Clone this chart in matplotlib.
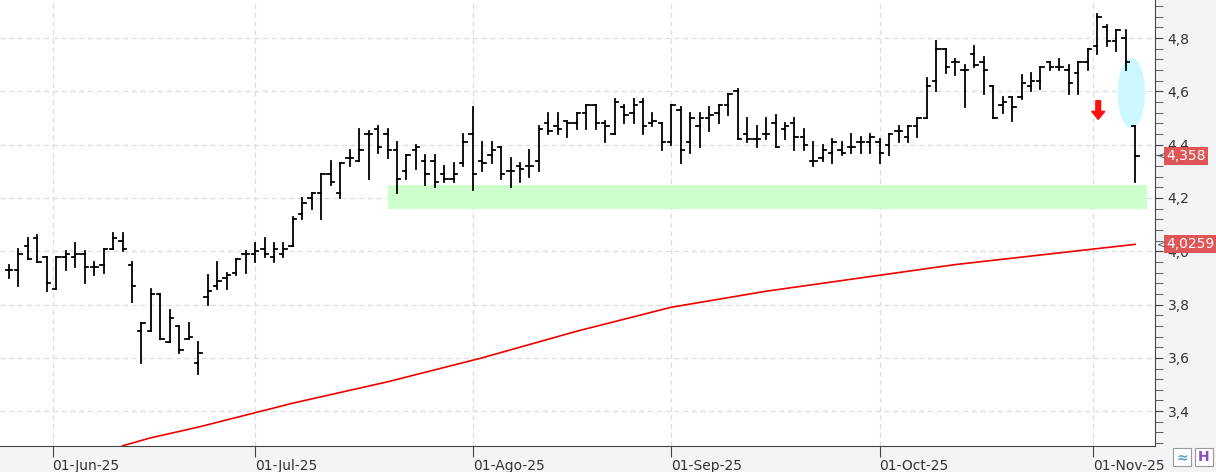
import pandas as pd
import matplotlib.pyplot as plt
from matplotlib.patches import Rectangle, Ellipse, FancyArrow

dates = pd.bdate_range("2025-05-26", "2025-11-07")

opens = [3.93, 3.93, 4.02, 4.05, 3.98, 3.86, 3.98, 3.98, 3.99, 3.94,
         3.95, 4.01, 4.04, 3.95, 3.70, 3.70, 3.84, 3.66, 3.72, 3.67,
         3.58, 3.83, 3.87, 3.90, 3.92, 3.99, 3.99, 4.01, 3.98, 3.99,
         4.02, 4.14, 4.20, 4.22, 4.29, 4.22, 4.35, 4.34, 4.44, 4.46,
         4.44, 4.38, 4.30, 4.38, 4.34, 4.34, 4.29, 4.27, 4.33, 4.44,
         4.34, 4.36, 4.39, 4.30, 4.32, 4.32, 4.34, 4.48, 4.47, 4.49,
         4.48, 4.52, 4.55, 4.48, 4.44, 4.54, 4.52, 4.56, 4.48, 4.48,
         4.41, 4.53, 4.41, 4.47, 4.50, 4.52, 4.55, 4.60, 4.44, 4.42,
         4.44, 4.48, 4.46, 4.48, 4.43, 4.34, 4.35, 4.37, 4.38, 4.39,
         4.41, 4.41, 4.41, 4.40, 4.45, 4.43, 4.47, 4.50, 4.64, 4.76,
         4.71, 4.68, 4.74, 4.71, 4.62, 4.55, 4.58, 4.58, 4.62, 4.64,
         4.71, 4.69, 4.68, 4.67, 4.71, 4.77, 4.84, 4.79, 4.80, 4.47]
highs = [3.95, 4.01, 4.05, 4.06, 3.98, 3.98, 4.00, 4.03, 4.00, 3.96,
         4.01, 4.07, 4.07, 3.96, 3.73, 3.86, 3.84, 3.78, 3.72, 3.73,
         3.66, 3.91, 3.96, 3.92, 3.97, 4.00, 4.03, 4.05, 4.03, 4.03,
         4.13, 4.20, 4.22, 4.29, 4.34, 4.33, 4.38, 4.46, 4.45, 4.47,
         4.46, 4.41, 4.36, 4.40, 4.36, 4.36, 4.32, 4.33, 4.44, 4.54,
         4.41, 4.41, 4.39, 4.35, 4.33, 4.38, 4.47, 4.52, 4.52, 4.49,
         4.52, 4.55, 4.55, 4.49, 4.57, 4.55, 4.57, 4.57, 4.52, 4.48,
         4.55, 4.54, 4.52, 4.52, 4.54, 4.55, 4.59, 4.61, 4.50, 4.47,
         4.50, 4.51, 4.48, 4.50, 4.46, 4.41, 4.40, 4.42, 4.41, 4.44,
         4.43, 4.44, 4.42, 4.44, 4.47, 4.47, 4.50, 4.65, 4.79, 4.76,
         4.72, 4.70, 4.77, 4.73, 4.62, 4.58, 4.58, 4.66, 4.67, 4.69,
         4.71, 4.72, 4.70, 4.71, 4.76, 4.89, 4.85, 4.83, 4.83, 4.47]
lows = [3.90, 3.87, 3.97, 3.96, 3.85, 3.86, 3.93, 3.94, 3.88, 3.91,
        3.92, 4.01, 4.00, 3.81, 3.58, 3.70, 3.67, 3.66, 3.62, 3.67,
        3.54, 3.80, 3.86, 3.86, 3.91, 3.92, 3.96, 3.98, 3.96, 3.98,
        4.02, 4.12, 4.16, 4.12, 4.25, 4.20, 4.32, 4.34, 4.27, 4.37,
        4.35, 4.22, 4.27, 4.31, 4.25, 4.24, 4.26, 4.26, 4.32, 4.23,
        4.30, 4.33, 4.27, 4.24, 4.26, 4.28, 4.30, 4.44, 4.44, 4.43,
        4.46, 4.46, 4.46, 4.41, 4.44, 4.48, 4.48, 4.44, 4.47, 4.38,
        4.40, 4.33, 4.37, 4.39, 4.45, 4.48, 4.51, 4.42, 4.41, 4.39,
        4.42, 4.39, 4.42, 4.38, 4.38, 4.32, 4.34, 4.33, 4.36, 4.37,
        4.37, 4.37, 4.33, 4.36, 4.41, 4.41, 4.43, 4.50, 4.60, 4.67,
        4.66, 4.54, 4.69, 4.59, 4.50, 4.52, 4.49, 4.57, 4.60, 4.61,
        4.68, 4.68, 4.59, 4.59, 4.68, 4.74, 4.77, 4.75, 4.68, 4.26]
closes = [3.93, 3.99, 3.97, 3.96, 3.88, 3.98, 3.99, 3.99, 3.94, 3.94,
          4.01, 4.05, 4.01, 3.87, 3.73, 3.84, 3.67, 3.75, 3.63, 3.68,
          3.62, 3.85, 3.89, 3.91, 3.97, 3.99, 4.00, 3.99, 4.01, 4.01,
          4.12, 4.18, 4.22, 4.29, 4.26, 4.33, 4.35, 4.38, 4.44, 4.39,
          4.38, 4.27, 4.36, 4.39, 4.29, 4.26, 4.27, 4.29, 4.41, 4.29,
          4.33, 4.38, 4.29, 4.30, 4.31, 4.32, 4.46, 4.45, 4.46, 4.48,
          4.52, 4.55, 4.48, 4.47, 4.56, 4.51, 4.55, 4.47, 4.49, 4.41,
          4.55, 4.38, 4.50, 4.50, 4.51, 4.55, 4.59, 4.42, 4.42, 4.42,
          4.44, 4.39, 4.47, 4.43, 4.40, 4.34, 4.38, 4.41, 4.37, 4.39,
          4.41, 4.43, 4.37, 4.44, 4.45, 4.47, 4.50, 4.62, 4.76, 4.69,
          4.71, 4.68, 4.70, 4.68, 4.50, 4.56, 4.54, 4.63, 4.64, 4.69,
          4.69, 4.69, 4.63, 4.71, 4.76, 4.88, 4.79, 4.83, 4.71, 4.358]

# moving average sampled every ~5 bars
ma_idx = [12, 15, 20, 25, 30, 35, 40, 45, 50, 55, 60, 65, 70, 75, 80,
          85, 90, 95, 100, 105, 110, 115, 119]
ma_val = [3.27, 3.30, 3.34, 3.385, 3.43, 3.47, 3.51, 3.555, 3.60, 3.65, 3.70, 3.745,
          3.79, 3.82, 3.85, 3.875, 3.90, 3.925, 3.95, 3.97, 3.99, 4.01, 4.0259]

months = ["2025-06-01", "2025-07-01", "2025-08-01", "2025-09-01", "2025-10-01", "2025-11-01"]
month_labels = ["01-Jun-25", "01-Jul-25", "01-Ago-25", "01-Sep-25", "01-Oct-25", "01-Nov-25"]

yticks = [3.4, 3.6, 3.8, 4.0, 4.2, 4.4, 4.6, 4.8]
support = (40.1, 120.3, 4.16, 4.25)   # x0, x1, y0, y1
ellipse_c, ellipse_wh = (118.6, 4.594), (2.9, 0.263)
arrow_x, arrow_top, arrow_tip = 115.1, 4.565, 4.495

fig = plt.figure(figsize=(12.16, 4.72), dpi=100)
fig.patch.set_facecolor("#f3f4f6")
ax = fig.add_axes([0, 0.055, 1155 / 1216, 0.945])
ax.set_facecolor("white")

ax.set_xlim(-0.95, 121.1)
ax.set_ylim(3.269, 4.943)

# grid
for y in yticks:
    ax.axhline(y, color="#dddddd", ls=(0, (4, 3)), lw=0.9, zorder=0)
mpos = []
for m in months:
    d = pd.Timestamp(m)
    i = dates.searchsorted(d)
    mpos.append(i if dates[i] == d else i - 0.4)
for p in mpos:
    ax.axvline(p, color="#dddddd", ls=(0, (4, 3)), lw=0.9, zorder=0)

ax.add_patch(Rectangle((support[0], support[2]), support[1] - support[0],
                       support[3] - support[2], color="#ccffcc", lw=0, zorder=1))
ax.add_patch(Ellipse(ellipse_c, *ellipse_wh, color="#ccf8ff", lw=0, zorder=1))
ax.add_patch(FancyArrow(arrow_x, arrow_top, 0, arrow_tip - arrow_top, width=0.5,
                        head_width=1.4, head_length=0.03, color="#ff1010",
                        length_includes_head=True, zorder=3))

# OHLC bars
tw = 0.36
for i in range(len(dates)):
    ax.plot([i, i], [lows[i], highs[i]], color="black", lw=1.3, zorder=2)
    ax.plot([i - tw, i], [opens[i], opens[i]], color="black", lw=1.3, zorder=2)
    ax.plot([i, i + tw], [closes[i], closes[i]], color="black", lw=1.3, zorder=2)

ax.plot(ma_idx, ma_val, color="#ee0000", lw=1.2, zorder=2)

# axes styling
for s in ["top", "left"]:
    ax.spines[s].set_visible(False)
ax.spines["right"].set_color("#444444")
ax.spines["bottom"].set_color("#444444")
ax.yaxis.tick_right()
ax.set_yticks(yticks)
ax.set_yticklabels([f"{y:.1f}".replace(".", ",") for y in yticks], fontsize=10, color="#333333")
ax.set_yticks([3.28 + 0.04 * k for k in range(42)], minor=True)
ax.tick_params(axis="y", which="both", length=6, color="#444444", pad=3)
ax.set_xticks(mpos)
ax.set_xticklabels(month_labels, fontsize=10, color="#333333", ha="left")
ax.tick_params(axis="x", length=8, color="#444444", pad=1)

# last price tags
for val, txt in [(closes[-1], "4,358"), (ma_val[-1], "4,0259")]:
    ax.annotate(txt, xy=(1.0, val), xycoords=("axes fraction", "data"),
                xytext=(8, 0), textcoords="offset points", va="center", ha="left",
                color="white", fontsize=10,
                bbox=dict(boxstyle="square,pad=0.15", fc="#e05555", ec="none"))
    ax.annotate("<", xy=(1.0, val), xycoords=("axes fraction", "data"),
                xytext=(1, 0), textcoords="offset points", va="center", ha="left",
                color="#555555", fontsize=8)

# toolbar buttons, bottom right
for x0, col, sym in [(1173, "#5b9bd5", "≈"), (1195, "#8a4fc7", "H")]:
    fig.patches.append(Rectangle((x0 / 1216, 6 / 472), 18 / 1216, 18 / 472,
                                 transform=fig.transFigure, fc="white", ec="#999999", lw=0.8))
    fig.text((x0 + 9) / 1216, 15 / 472, sym, color=col, fontsize=10,
             ha="center", va="center", fontweight="bold")

plt.savefig("out.png", dpi=100, facecolor=fig.get_facecolor())
